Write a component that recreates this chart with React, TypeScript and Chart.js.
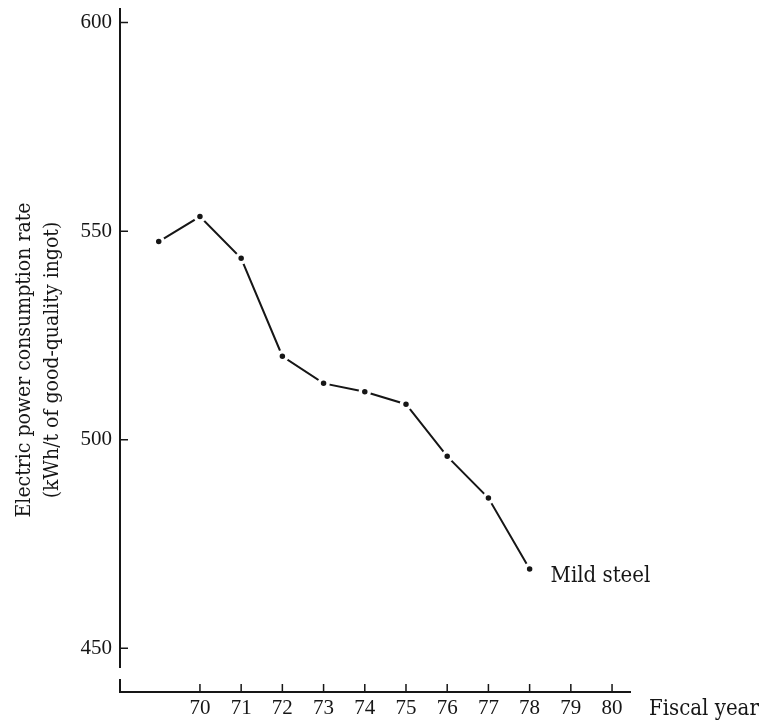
import React, { useEffect, useRef } from "react";
import { Chart, registerables } from "chart.js";

Chart.register(...registerables);

const fiscalYears = [69, 70, 71, 72, 73, 74, 75, 76, 77, 78];
const consumptionRate = [547.5, 553.5, 543.5, 520, 513.5, 511.5, 508.5, 496, 486, 469];
const xTickValues = [70, 71, 72, 73, 74, 75, 76, 77, 78, 79, 80];
const yTickValues = [450, 500, 550, 600];
const seriesName = "Mild steel";
const xAxisTitle = "Fiscal year";
const yAxisTitle = ["Electric power consumption rate", "(kWh/t of good-quality ingot)"];

const INK = "#161616";
const TEXT_FONT = "'DejaVu Serif Condensed', 'DejaVu Serif', serif";
const TICK_FONT = "'Liberation Serif', 'Times New Roman', serif";

const annotatePlugin = {
  id: "annotate",
  afterDraw(chart: any) {
    const { ctx, chartArea } = chart;
    const xs = chart.scales.x;
    const ys = chart.scales.y;
    ctx.save();
    ctx.strokeStyle = INK;
    ctx.fillStyle = INK;
    ctx.lineWidth = 2;
    ctx.lineCap = "butt";
    // y axis with a break near the bottom
    ctx.beginPath();
    ctx.moveTo(chartArea.left, chartArea.top);
    ctx.lineTo(chartArea.left, chartArea.bottom - 24);
    ctx.moveTo(chartArea.left, chartArea.bottom - 13);
    ctx.lineTo(chartArea.left, chartArea.bottom + 1);
    ctx.stroke();
    // x axis
    ctx.beginPath();
    ctx.moveTo(chartArea.left - 1, chartArea.bottom);
    ctx.lineTo(chartArea.right, chartArea.bottom);
    ctx.stroke();
    // tick marks pointing inward
    ctx.lineWidth = 1.5;
    ctx.beginPath();
    yTickValues.forEach((v) => {
      const py = ys.getPixelForValue(v);
      ctx.moveTo(chartArea.left, py);
      ctx.lineTo(chartArea.left + 8, py);
    });
    xTickValues.forEach((v) => {
      const px = xs.getPixelForValue(v);
      ctx.moveTo(px, chartArea.bottom);
      ctx.lineTo(px, chartArea.bottom - 8);
    });
    ctx.stroke();
    // x axis title
    ctx.font = `22px ${TEXT_FONT}`;
    ctx.textAlign = "left";
    ctx.textBaseline = "alphabetic";
    ctx.fillText(xAxisTitle, chartArea.right + 18, chartArea.bottom + 23);
    // series label next to last point
    const last = fiscalYears.length - 1;
    const lx = xs.getPixelForValue(fiscalYears[last]);
    const ly = ys.getPixelForValue(consumptionRate[last]);
    ctx.font = `22px ${TEXT_FONT}`;
    ctx.fillText(seriesName, lx + 21, ly + 13);
    // y axis title (two rotated lines)
    const cy = (chartArea.top + chartArea.bottom) / 2 + 10;
    ctx.translate(0, cy);
    ctx.rotate(-Math.PI / 2);
    ctx.textAlign = "center";
    ctx.font = `21px ${TEXT_FONT}`;
    ctx.fillText(yAxisTitle[0], 0, 30);
    ctx.fillText(yAxisTitle[1], 0, 58);
    ctx.restore();
  },
};

export default function App() {
  const canvasRef = useRef<HTMLCanvasElement | null>(null);

  useEffect(() => {
    const canvas = canvasRef.current;
    if (!canvas) return;
    const chart = new Chart(canvas, {
      type: "line",
      data: {
        datasets: [
          {
            label: seriesName,
            data: fiscalYears.map((y, i) => ({ x: y, y: consumptionRate[i] })),
            borderColor: INK,
            borderWidth: 2,
            tension: 0,
            pointRadius: 4.5,
            pointBackgroundColor: INK,
            pointBorderColor: "#ffffff",
            pointBorderWidth: 3.5,
          },
        ],
      },
      options: {
        animation: false,
        responsive: false,
        layout: { padding: { top: 3, right: 139, left: 0, bottom: 0 } },
        plugins: {
          legend: { display: false },
          tooltip: { enabled: false },
        },
        scales: {
          x: {
            type: "linear",
            min: 68.06,
            max: 80.46,
            afterBuildTicks: (s: any) => {
              s.ticks = xTickValues.map((v) => ({ value: v }));
            },
            afterFit: (s: any) => {
              s.height = 36;
              s.paddingLeft = 0;
              s.paddingRight = 0;
            },
            grid: { display: false, drawTicks: false },
            border: { display: false },
            ticks: {
              autoSkip: false,
              maxRotation: 0,
              padding: 4,
              color: INK,
              font: { family: TICK_FONT, size: 21 },
              callback: (v: any) => String(v),
            },
          },
          y: {
            type: "linear",
            min: 439.5,
            max: 603.5,
            afterBuildTicks: (s: any) => {
              s.ticks = yTickValues.map((v) => ({ value: v }));
            },
            afterFit: (s: any) => {
              s.width = 120;
              s.paddingTop = 0;
              s.paddingBottom = 0;
            },
            grid: { display: false, drawTicks: false },
            border: { display: false },
            ticks: {
              padding: 8,
              color: INK,
              font: { family: TICK_FONT, size: 21 },
              callback: (v: any) => String(v),
            },
          },
        },
      },
      plugins: [annotatePlugin],
    });
    return () => chart.destroy();
  }, []);

  return (
    <div style={{ position: "fixed", left: 0, top: 0, width: 770, height: 728, background: "#fff" }}>
      <canvas ref={canvasRef} width={770} height={728} />
    </div>
  );
}
